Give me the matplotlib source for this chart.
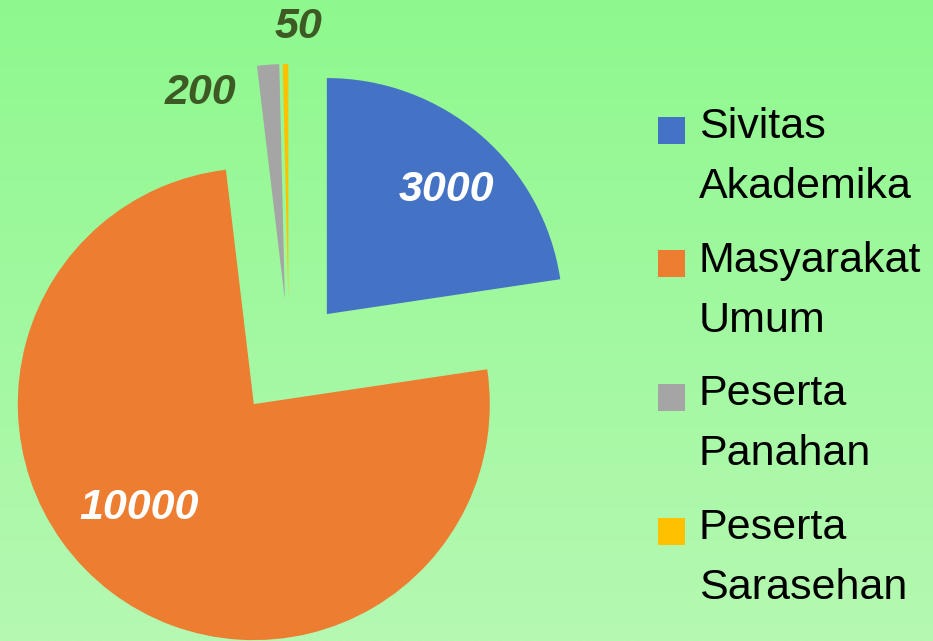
import numpy as np
import matplotlib.pyplot as plt
from matplotlib.patches import Rectangle

# data
categories = ['Sivitas\nAkademika', 'Masyarakat\nUmum', 'Peserta\nPanahan', 'Peserta\nSarasehan']
values = [3000, 10000, 200, 50]
colors = ['#4472C4', '#ED7D31', '#A5A5A5', '#FFC000']

W, H = 933, 641
fig = plt.figure(figsize=(W / 100, H / 100), dpi=100)
ax = fig.add_axes([0, 0, 1, 1])

# green gradient background
top = np.array([142, 249, 142]) / 255
bottom = np.array([181, 248, 178]) / 255
t = np.linspace(0, 1, 256)[:, None]
grad = (top * (1 - t) + bottom * t)[:, None, :]
ax.imshow(grad, extent=(0, W, 0, H), aspect='auto', zorder=0)

# exploded pie (pixel coords, y up); explode is absolute here
radius = 236
center = (289, H - 358)
wedges, _ = ax.pie(values, colors=colors, startangle=90, counterclock=False,
                   explode=[58] * len(values), radius=radius,
                   center=center, wedgeprops=dict(linewidth=0), frame=True)
for w in wedges:
    w.set_zorder(2)

# value labels
label_pos = [(446, 190), (139, 508), (200, 93), (298, 27)]
label_col = ['white', 'white', '#3d5a24', '#3d5a24']
for v, (x, y), c in zip(values, label_pos, label_col):
    ax.text(x, H - y, str(v), ha='center', va='center', fontsize=31,
            fontweight='bold', fontstyle='italic', color=c,
            family='Liberation Sans', zorder=3)

# legend drawn by hand
sq = 27
for i, (lab, col) in enumerate(zip(categories, colors)):
    base = 138 + i * 133.7
    ax.add_patch(Rectangle((658, H - (base - 8) - sq / 2), sq, sq,
                           facecolor=col, edgecolor='none', zorder=3))
    ax.text(699, H - base + 31, lab, ha='left', va='top', fontsize=31,
            family='Liberation Sans', color='black', linespacing=1.64, zorder=3)

ax.set_xlim(0, W)
ax.set_ylim(0, H)
ax.axis('off')

fig.savefig('out.png', dpi=100)
